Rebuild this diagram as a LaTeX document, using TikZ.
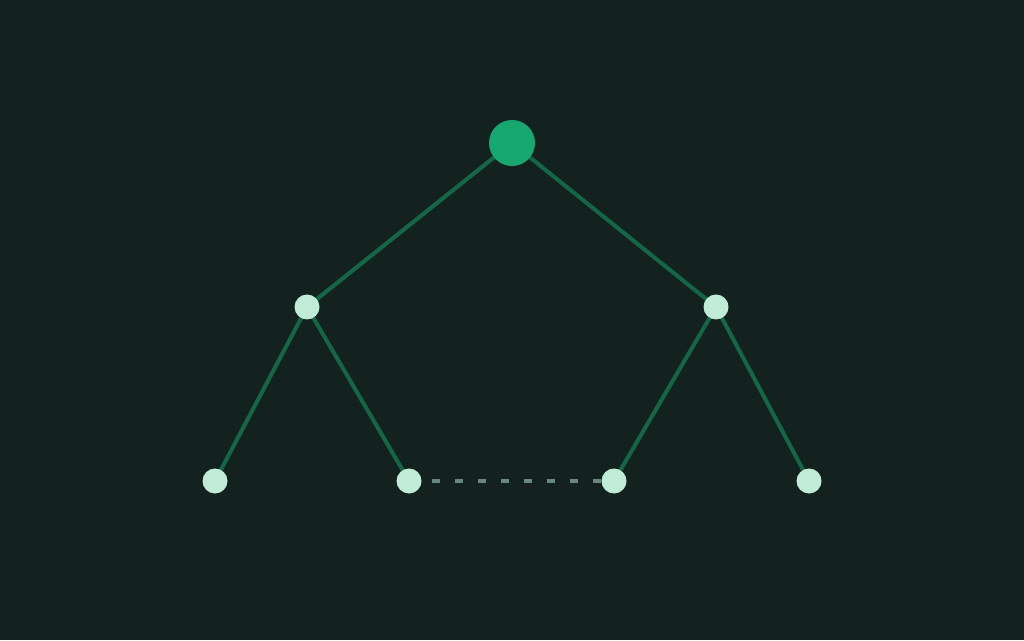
\documentclass[tikz,border=0pt]{standalone}
\usepackage{tikz}
\usepackage{xcolor}
\usetikzlibrary{backgrounds}
\definecolor{bgcolor}{RGB}{19, 34, 30}
\definecolor{edgecolor}{RGB}{19, 102, 70}
\definecolor{rootcolor}{RGB}{22, 168, 112}
\definecolor{leafcolor}{RGB}{192, 235, 214}
\definecolor{dashcolor}{RGB}{104, 136, 126}

\begin{document}
\begin{tikzpicture}[x=1pt, y=1pt,
        rootnode/.style={circle, fill=rootcolor, inner sep=0pt, minimum size=46pt},
        treenode/.style={circle, fill=leafcolor, inner sep=0pt, minimum size=25pt},
        branch/.style={draw=edgecolor, line width=4pt},
        gap/.style={draw=dashcolor, line width=4pt, dash pattern=on 8pt off 15pt, dash phase=13pt}]
        \useasboundingbox (0, 0) rectangle (1024, 640);
        % Nodes {{{
        \node[rootnode] (root) at (512, 497) {};
        \node[treenode] (left) at (307, 333) {};
        \node[treenode] (right) at (716, 333) {};
        \node[treenode] (leafa) at (215, 159) {};
        \node[treenode] (leafb) at (409, 159) {};
        \node[treenode] (leafc) at (614, 159) {};
        \node[treenode] (leafd) at (809, 159) {};
        % }}}
        % Branches, behind the nodes {{{
        \begin{scope}[on background layer]
                \fill[bgcolor] (0, 0) rectangle (1024, 640);
                \draw[branch] (root.center) -- (left.center) (root.center) -- (right.center); % Level 1
                \draw[branch] (left.center) -- (leafa.center) (left.center) -- (leafb.center); % Level 2
                \draw[branch] (right.center) -- (leafc.center) (right.center) -- (leafd.center);
        \end{scope}
        \draw[gap] (leafb) -- (leafc);
        % }}}
\end{tikzpicture}
\end{document}
